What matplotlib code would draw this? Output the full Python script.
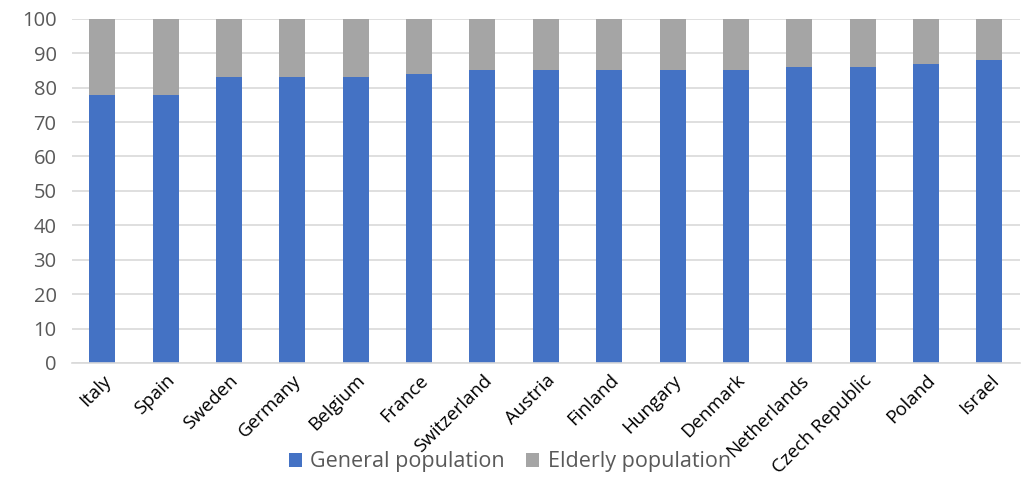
import matplotlib.pyplot as plt

countries = ['Italy', 'Spain', 'Sweden', 'Germany', 'Belgium', 'France', 'Switzerland',
             'Austria', 'Finland', 'Hungary', 'Denmark', 'Netherlands', 'Czech Republic',
             'Poland', 'Israel']
general = [78, 78, 83, 83, 83, 84, 85, 85, 85, 85, 85, 86, 86, 87, 88]
elderly = [100 - g for g in general]

plt.rcParams['font.family'] = ['Open Sans', 'DejaVu Sans']

fig = plt.figure(figsize=(10.26, 4.82), dpi=100)
ax = fig.add_axes([0.070, 0.247, 0.924, 0.714])

x = range(len(countries))
ax.bar(x, general, width=0.41, color='#4472C4', label='General population', zorder=2)
ax.bar(x, elderly, width=0.41, bottom=general, color='#A5A5A5', label='Elderly population', zorder=2)

ax.set_xlim(-0.48, len(countries) - 0.52)
ax.set_ylim(0, 100)
ax.set_yticks(range(0, 101, 10))
ax.grid(axis='y', color='#D9D9D9', linewidth=1.2, zorder=0)
for s in ['top', 'right', 'left']:
    ax.spines[s].set_visible(False)
ax.spines['bottom'].set_color('#D9D9D9')
ax.spines['bottom'].set_linewidth(1.2)
ax.tick_params(axis='both', length=0)
ax.tick_params(axis='y', labelsize=14.5, labelcolor='#595959', pad=11)
ax.tick_params(axis='x', pad=6)
ax.set_xticks(list(x))
ax.set_xticklabels(countries, rotation=45, ha='right', rotation_mode='anchor', fontsize=13.5)

fig.legend(loc='lower center', bbox_to_anchor=(0.497, -0.02), ncol=2, frameon=False,
           fontsize=15.5, handlelength=0.6, handleheight=0.6, handletextpad=0.4,
           columnspacing=1.0, labelcolor='#595959')

fig.savefig('out.png', dpi=100)
